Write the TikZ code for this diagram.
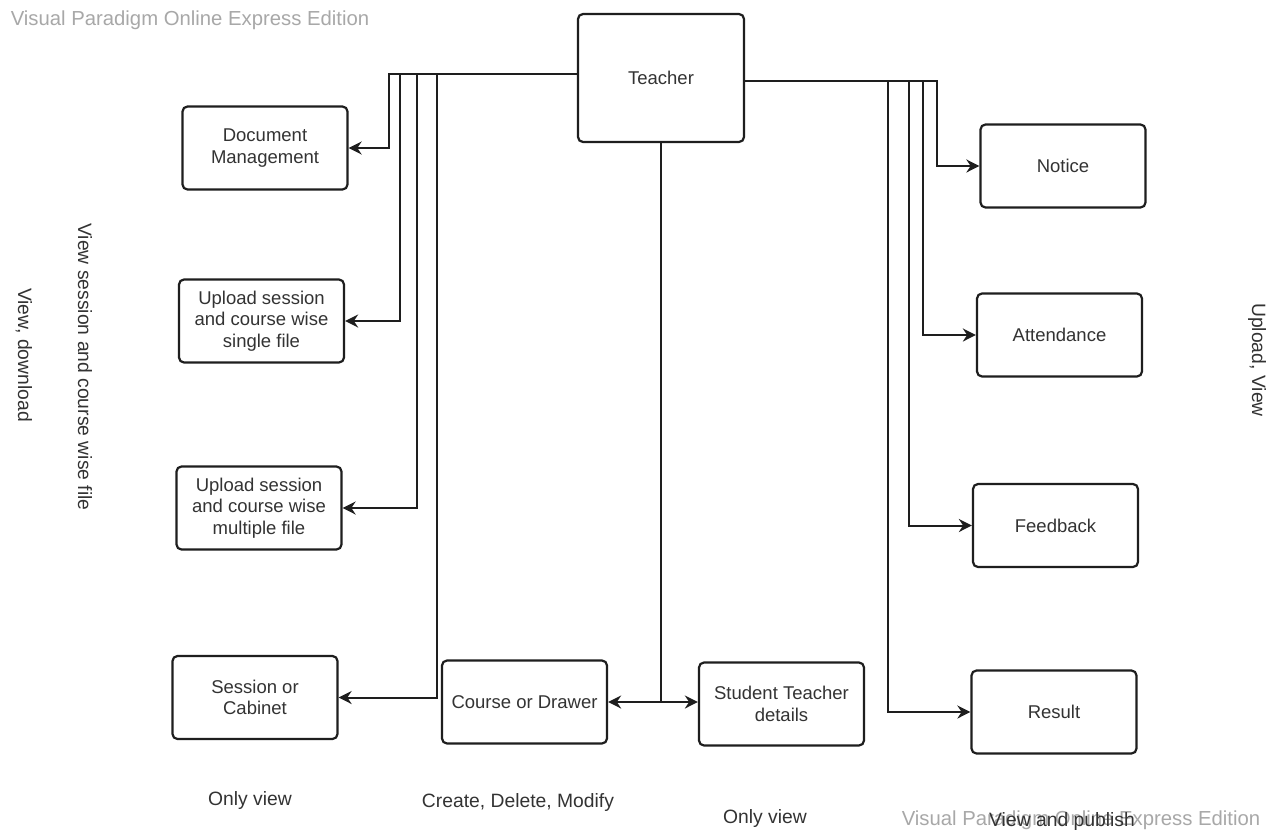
\documentclass[tikz,border=0pt]{standalone}
\usepackage{fontspec}
\setmainfont{Liberation Sans}
\usetikzlibrary{arrows.meta}
\definecolor{ink}{HTML}{1E1E1E}
\definecolor{txt}{HTML}{333333}
\definecolor{wm}{HTML}{A8A8A8}
\begin{document}
\begin{tikzpicture}[x=1pt,y=-1pt,
  box/.style={draw=ink,line width=2.2pt,rounded corners=5pt,minimum width=165pt,minimum height=83pt,align=center,text=txt,font=\fontsize{18.5}{21.5}\selectfont,inner sep=2pt},
  conn/.style={draw=ink,line width=2pt},
  arr/.style={conn,-{Stealth[length=13pt,width=13pt]}},
  arrb/.style={conn,{Stealth[length=13pt,width=13pt]}-{Stealth[length=13pt,width=13pt]}},
  lbl/.style={text=txt,font=\fontsize{19.3}{22}\selectfont,inner sep=0pt},
  wmark/.style={text=wm,font=\fontsize{20.3}{22}\selectfont,inner sep=0pt}]
\useasboundingbox (0,0) rectangle (1270,838);
\fill[white] (0,0) rectangle (1270,838);

% nodes
\node[box,minimum width=166pt,minimum height=128pt] (teacher) at (661,78) {Teacher};
\node[box] (doc) at (265,148) {Document\\Management};
\node[box] (single) at (261.5,321) {Upload session\\and course wise\\single file};
\node[box] (multi) at (259,508) {Upload session\\and course wise\\multiple file};
\node[box] (session) at (255,697.5) {Session or\\Cabinet};
\node[box] (course) at (524.5,702) {Course or Drawer};
\node[box] (student) at (781.5,704) {Student Teacher\\details};
\node[box] (notice) at (1063,166) {Notice};
\node[box] (attend) at (1059.5,335) {Attendance};
\node[box] (feed) at (1055.5,525.5) {Feedback};
\node[box] (result) at (1054,712) {Result};

% branch coordinates
\coordinate (tl) at (0,74);
\coordinate (tr) at (0,81);
\coordinate (l1) at (389,0);
\coordinate (l2) at (400,0);
\coordinate (l3) at (417,0);
\coordinate (l4) at (437,0);
\coordinate (r1) at (937,0);
\coordinate (r2) at (923,0);
\coordinate (r3) at (909,0);
\coordinate (r4) at (888,0);
\coordinate (bj) at (661,702);

% left connectors
\draw[arr] (tl -| teacher.west) -| (l1 |- doc.east) -- (doc.east);
\draw[arr] (tl -| teacher.west) -| (l2 |- single.east) -- (single.east);
\draw[arr] (tl -| teacher.west) -| (l3 |- multi.east) -- (multi.east);
\draw[arr] (tl -| teacher.west) -| (l4 |- session.east) -- (session.east);

% right connectors
\draw[arr] (tr -| teacher.east) -| (r1 |- notice.west) -- (notice.west);
\draw[arr] (tr -| teacher.east) -| (r2 |- attend.west) -- (attend.west);
\draw[arr] (tr -| teacher.east) -| (r3 |- feed.west) -- (feed.west);
\draw[arr] (tr -| teacher.east) -| (r4 |- result.west) -- (result.west);

% bottom connector
\draw[conn] (teacher.south) -- (bj);
\draw[arrb] (course.east) -- (course.east -| student.west);

% side labels
\node[lbl,rotate=-90] (lv1) at (85,367) {View session and course wise file};
\node[lbl,rotate=-90] (lv2) at (24,355) {View, download};
\node[lbl,rotate=-90] (lv3) at (1257,360) {Upload, View};

% bottom labels
\node[lbl] (b1) at (250,801) {Only view};
\node[lbl] (b2) at (518,803) {Create, Delete, Modify};
\node[lbl] (b3) at (765,819) {Only view};
\node[wmark] (w2) at (1081,820) {Visual Paradigm Online Express Edition};
\node[lbl] (b4) at (1062,822) {View and publish};

% watermark
\node[wmark] (w1) at (190,20) {Visual Paradigm Online Express Edition};
\end{tikzpicture}
\end{document}
